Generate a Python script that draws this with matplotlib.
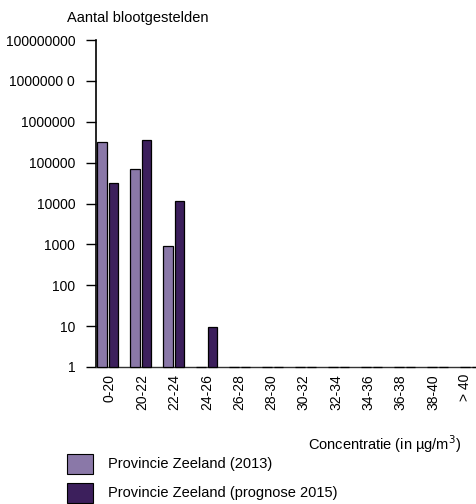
import numpy as np
import matplotlib
matplotlib.use("Agg")
import matplotlib.pyplot as plt
from matplotlib.patches import Rectangle

plt.rcParams['font.family'] = ['Liberation Sans', 'DejaVu Sans']

categories = ["0-20", "20-22", "22-24", "24-26", "26-28", "28-30", "30-32",
              "32-34", "34-36", "36-38", "38-40", "> 40"]
zeeland_2013 = [314000, 70000, 930, 1, 1, 1, 1, 1, 1, 1, 1, 1]
zeeland_2015 = [31000, 352000, 11700, 9.4, 1, 1, 1, 1, 1, 1, 1, 1]
y_ticks = [1, 10, 100, 1000, 10000, 100000, 1000000, 10000000, 100000000]
y_labels = ["1", "10", "100", "1000", "10000", "100000", "1000000",
            "1000000 0", "100000000"]

col_2013 = "#8a78a8"
col_2015 = "#3c1f5c"

W, H = 476, 504
fig = plt.figure(figsize=(W / 100, H / 100), dpi=100)
ax = fig.add_axes([96 / W, 1 - 367 / H, 1 - 96 / W, (367 - 40) / H])

x = np.arange(len(categories))
bw = 0.29
ax.bar(x + 0.04, np.array(zeeland_2013) - 1, bottom=1, width=bw, align="edge",
       color=col_2013, edgecolor="black", linewidth=0.9, zorder=3, clip_on=False)
ax.bar(x + 0.38, np.array(zeeland_2015) - 1, bottom=1, width=bw, align="edge",
       color=col_2015, edgecolor="black", linewidth=0.9, zorder=3, clip_on=False)

ax.set_yscale("log")
ax.set_ylim(1, 1e8)
ax.set_xlim(0, 380 / 33)
ax.set_yticks(y_ticks)
ax.set_yticklabels(y_labels, fontsize=10)
ax.yaxis.set_minor_locator(matplotlib.ticker.NullLocator())
ax.tick_params(axis="y", direction="out", length=7, width=1, pad=8)

ax.set_xticks((14 + 32.3 * x) / 33)
ax.set_xticklabels(categories, rotation=90, fontsize=10)
ax.tick_params(axis="x", length=0, pad=5)

for s in ["top", "right"]:
    ax.spines[s].set_visible(False)
ax.spines["left"].set_linewidth(1.2)
ax.spines["bottom"].set_linewidth(1.0)
ax.spines["bottom"].set_color("#333333")

fig.text(138 / W, 1 - 18 / H, "Aantal blootgestelden", ha="center", va="center",
         fontsize=10.5)
fig.text(461 / W, 1 - 444 / H, "Concentratie (in µg/m$^3$)", ha="right",
         va="center", fontsize=10.5)

# legend
for i, (lab, col) in enumerate([("Provincie Zeeland (2013)", col_2013),
                                 ("Provincie Zeeland (prognose 2015)", col_2015)]):
    yc = 464 + i * 29
    fig.patches.append(Rectangle((67 / W, 1 - (yc + 10) / H), 26 / W, 20 / H,
                                 transform=fig.transFigure, facecolor=col,
                                 edgecolor="black", linewidth=0.8))
    fig.text(108 / W, 1 - yc / H, lab, ha="left", va="center", fontsize=10.5)

fig.savefig("out.png", dpi=100)
